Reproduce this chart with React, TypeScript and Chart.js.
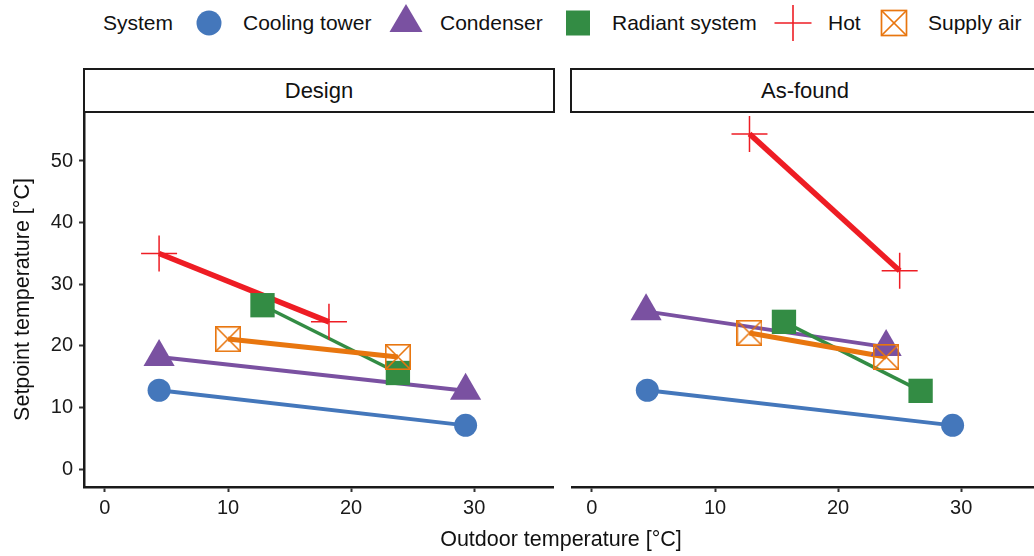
import React, { useEffect, useRef } from 'react';
import { Chart, registerables } from 'chart.js';

Chart.register(...registerables);

const FONT = "'Liberation Sans', Arial, Helvetica, sans-serif";

const systems = ['Cooling tower', 'Condenser', 'Radiant system', 'Hot', 'Supply air'];
const systemColors = ['#4477BB', '#7A51A1', '#338C44', '#EE1D24', '#E8760F'];
const systemLineWidths = [4, 4, 3.5, 5.5, 5];
const facets = ['Design', 'As-found'];
const xTicks = [0, 10, 20, 30];
const yTicks = [0, 10, 20, 30, 40, 50];

// Outdoor temperature [°C] per system (two operating points each)
const designOutdoor = [[4.4, 29.3], [4.4, 29.3], [12.8, 23.8], [4.4, 18.2], [10.0, 23.8]];
// Setpoint temperature [°C] per system
const designSetpoint = [[12.8, 7.1], [18.2, 12.7], [26.6, 15.6], [35.0, 23.9], [21.1, 18.2]];
const asFoundOutdoor = [[4.5, 29.3], [4.4, 23.9], [15.6, 26.7], [12.8, 25.0], [12.8, 23.9]];
const asFoundSetpoint = [[12.8, 7.1], [25.6, 19.8], [23.9, 12.7], [54.4, 32.2], [22.1, 18.2]];

function makeBoxX(size: number, color: string, lw: number) {
  const c = document.createElement('canvas');
  c.width = size;
  c.height = size;
  const ctx = c.getContext('2d')!;
  ctx.strokeStyle = color;
  ctx.lineWidth = lw;
  const o = lw / 2;
  ctx.strokeRect(o, o, size - lw, size - lw);
  ctx.beginPath();
  ctx.moveTo(o, o);
  ctx.lineTo(size - o, size - o);
  ctx.moveTo(size - o, o);
  ctx.lineTo(o, size - o);
  ctx.stroke();
  return c;
}

function buildConfig(outdoor: number[][], setpoint: number[][], showY: boolean): any {
  const styles: any[] = ['circle', 'triangle', 'rect', 'cross', makeBoxX(26, systemColors[4], 1.6)];
  const radii = [11.5, 18, 17.2, 18, 13];
  const order = [4, 3, 2, 1, 0];
  const pointSets = order.map((i) => ({
    label: systems[i],
    data: outdoor[i].map((x, k) => ({ x, y: setpoint[i][k] })),
    showLine: false,
    pointStyle: styles[i],
    pointRadius: radii[i],
    pointHoverRadius: radii[i],
    backgroundColor: systemColors[i],
    borderColor: systemColors[i],
    pointBorderWidth: i === 3 ? 1.5 : 0,
    clip: false,
  }));
  const lineSets = order.map((i) => ({
    label: systems[i] + ' line',
    data: outdoor[i].map((x, k) => ({ x, y: setpoint[i][k] })),
    showLine: true,
    pointRadius: 0,
    borderColor: systemColors[i],
    backgroundColor: systemColors[i],
    borderWidth: systemLineWidths[i],
    tension: 0,
    clip: false,
  }));
  const gridOpts = {
    display: true,
    drawOnChartArea: false,
    drawTicks: true,
    tickLength: 5,
    tickWidth: 2,
    tickColor: '#333333',
    color: '#333333',
  };
  return {
    type: 'scatter',
    data: { datasets: [...pointSets, ...lineSets] },
    options: {
      responsive: false,
      animation: false,
      events: [],
      layout: { autoPadding: false, padding: { top: 20, right: showY ? 7 : 0, left: 0, bottom: 0 } },
      plugins: { legend: { display: false }, tooltip: { enabled: false } },
      scales: {
        x: {
          type: 'linear',
          min: -1.7,
          max: 36.4,
          afterBuildTicks: (s: any) => {
            s.ticks = xTicks.map((v) => ({ value: v }));
          },
          afterFit: (s: any) => {
            s.height = 69;
          },
          ticks: { font: { family: FONT, size: 20 }, color: '#1a1a1a', padding: 4, maxRotation: 0, autoSkip: false },
          grid: gridOpts,
          border: { display: true, color: '#1a1a1a', width: 2.5 },
        },
        y: {
          type: 'linear',
          display: showY,
          min: -2.9,
          max: 57.95,
          afterBuildTicks: (s: any) => {
            s.ticks = yTicks.map((v) => ({ value: v }));
          },
          afterFit: (s: any) => {
            s.width = showY ? 84 : 0;
          },
          ticks: { font: { family: FONT, size: 20 }, color: '#1a1a1a', padding: 6, autoSkip: false },
          grid: gridOpts,
          border: { display: true, color: '#1a1a1a', width: 2.5 },
          title: {
            display: true,
            text: 'Setpoint temperature [°C]',
            font: { family: FONT, size: 21.5 },
            color: '#111',
            padding: { top: 10, bottom: 0 },
          },
        },
      },
    },
  };
}

function Panel(props: { outdoor: number[][]; setpoint: number[][]; showY: boolean; left: number; width: number }) {
  const ref = useRef<HTMLCanvasElement>(null);
  useEffect(() => {
    if (!ref.current) return;
    const chart = new Chart(ref.current, buildConfig(props.outdoor, props.setpoint, props.showY));
    return () => chart.destroy();
  }, []);
  return (
    <canvas
      ref={ref}
      width={props.width}
      height={464}
      style={{ position: 'absolute', left: props.left, top: 92, width: props.width, height: 464 }}
    />
  );
}

function LegendMarker({ i, cx }: { i: number; cx: number }) {
  const c = systemColors[i];
  const cy = 23;
  let shape: any = null;
  if (i === 0) shape = <circle cx={cx} cy={cy} r={12.5} fill={c} />;
  if (i === 1)
    shape = <polygon points={`${cx},${cy - 19} ${cx - 16.5},${cy + 9} ${cx + 16.5},${cy + 9}`} fill={c} />;
  if (i === 2) shape = <rect x={cx - 12} y={cy - 12.5} width={24} height={25} fill={c} />;
  if (i === 3)
    shape = (
      <g stroke={c} strokeWidth={1.6}>
        <line x1={cx - 18.5} y1={cy} x2={cx + 18.5} y2={cy} />
        <line x1={cx} y1={cy - 18} x2={cx} y2={cy + 18} />
      </g>
    );
  if (i === 4)
    shape = (
      <g stroke={c} strokeWidth={1.7} fill="none">
        <rect x={cx - 12.5} y={cy - 12.5} width={25} height={25} />
        <line x1={cx - 12.5} y1={cy - 12.5} x2={cx + 12.5} y2={cy + 12.5} />
        <line x1={cx + 12.5} y1={cy - 12.5} x2={cx - 12.5} y2={cy + 12.5} />
      </g>
    );
  return shape;
}

export default function App() {
  const markerX = [209, 406, 578, 793, 894];
  const labelX = [243, 440, 612, 828, 928];
  const textStyle: any = {
    position: 'absolute',
    fontFamily: FONT,
    fontSize: 21,
    lineHeight: '24px',
    color: '#111',
    whiteSpace: 'nowrap',
  };
  return (
    <div
      style={{
        position: 'absolute',
        left: 0,
        top: 0,
        width: 1034,
        height: 556,
        overflow: 'hidden',
        background: '#fff',
      }}
    >
      <Panel outdoor={designOutdoor} setpoint={designSetpoint} showY={true} left={0} width={560} />
      <Panel outdoor={asFoundOutdoor} setpoint={asFoundSetpoint} showY={false} left={571} width={469} />

      <svg width={1034} height={48} style={{ position: 'absolute', left: 0, top: 0 }}>
        {systems.map((s, i) => (
          <LegendMarker key={s} i={i} cx={markerX[i]} />
        ))}
      </svg>
      <div style={{ ...textStyle, left: 103, top: 11 }}>System</div>
      {systems.map((s, i) => (
        <div key={s} style={{ ...textStyle, left: labelX[i], top: 11 }}>
          {s}
        </div>
      ))}

      {facets.map((f, k) => (
        <div
          key={f}
          style={{
            position: 'absolute',
            left: k === 0 ? 83 : 570,
            top: 68,
            width: k === 0 ? 472 : 480,
            height: 45,
            boxSizing: 'border-box',
            border: '2px solid #1a1a1a',
            background: '#fff',
            display: 'flex',
            alignItems: 'center',
            justifyContent: 'center',
            fontFamily: FONT,
            fontSize: 22,
            color: '#111',
          }}
        >
          <span style={{ marginLeft: k === 0 ? 0 : -10 }}>{f}</span>
        </div>
      ))}

      <div
        style={{
          ...textStyle,
          fontSize: 21.5,
          left: 561,
          top: 527,
          transform: 'translateX(-50%)',
        }}
      >
        Outdoor temperature [°C]
      </div>
    </div>
  );
}
